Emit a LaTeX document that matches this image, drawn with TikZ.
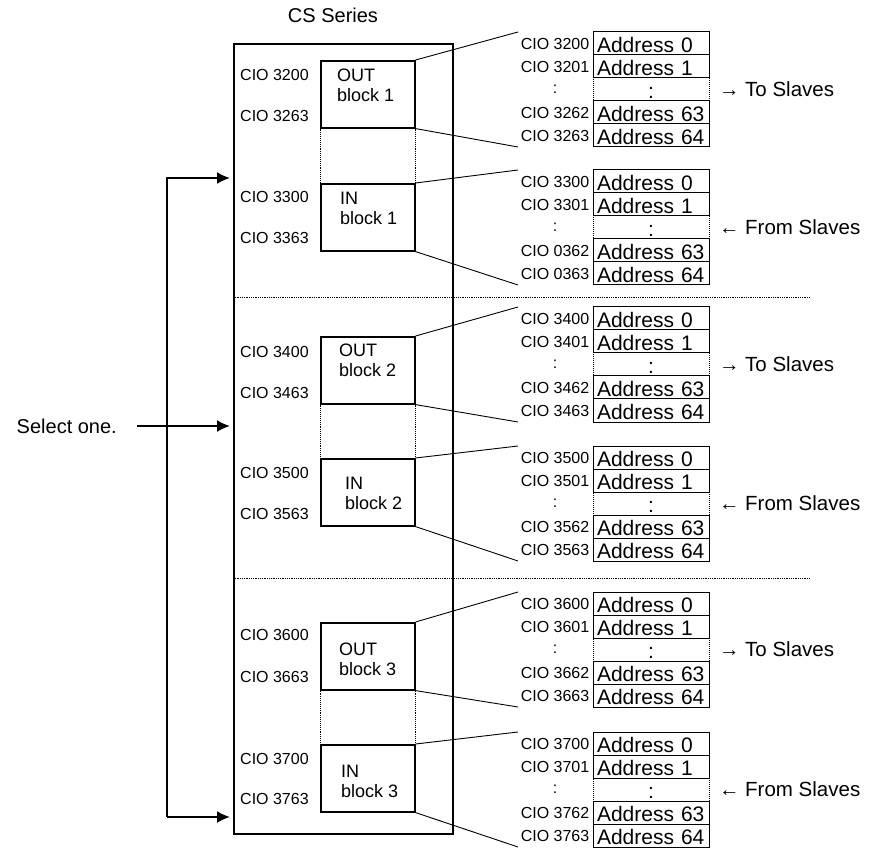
\documentclass[tikz,border=0pt]{standalone}
\usepackage{fontspec}
\setmainfont{Liberation Sans}
\usetikzlibrary{arrows.meta}
% one address table: name, top edge, four CIO numbers, note
\newcommand{\addrtable}[7]{%
  \coordinate (#1top) at (518,#2);
  \coordinate (#1bot) at (518,#2+115);
  \node[addrdot] (#1r2) at (651,#2+57.5) {:};
  \node[addr] (#1r0) at (651,#2+11.5) {Address 0};
  \node[addr] (#1r1) at (651,#2+34.5) {Address 1};
  \node[addr] (#1r3) at (651,#2+80.5) {Address 63};
  \node[addr] (#1r4) at (651,#2+103.5) {Address 64};
  \node[cio, anchor=east] (#1c0) at (#1r0.west) {CIO #3};
  \node[cio, anchor=east] (#1c1) at (#1r1.west) {CIO #4};
  \node[cio] (#1c2) at (#1c1.center |- #1r2.center) {:};
  \node[cio, anchor=east] (#1c3) at (#1r3.west) {CIO #5};
  \node[cio, anchor=east] (#1c4) at (#1r4.west) {CIO #6};
  \node[note, anchor=west, xshift=6pt] (#1n) at (#1r2.east) {#7};
}

\begin{document}
\begin{tikzpicture}[x=1pt, y=-1pt,
    box/.style={draw, line width=2pt, minimum width=219pt,
                minimum height=790pt, anchor=north west},
    blk/.style={draw, line width=1.6pt, minimum width=94pt,
                minimum height=67pt, anchor=north west},
    blktxt/.style={anchor=west, inner sep=0pt, align=left,
                   font=\fontsize{18}{20}\selectfont},
    addr/.style={draw, line width=1pt, minimum width=116pt,
                 minimum height=23pt, inner ysep=0pt, inner xsep=4pt,
                 text width=108pt, align=left, text height=18.5pt,
                 text depth=0pt, font=\fontsize{21}{21}\selectfont},
    addrdot/.style={addr, densely dotted, align=center},
    cio/.style={inner sep=3pt, font=\fontsize{16}{16}\selectfont},
    note/.style={font=\fontsize{20.5}{20.5}\selectfont},
    lbl/.style={inner sep=0pt, font=\fontsize{20}{20}\selectfont},
    lnk/.style={line width=0.9pt},
    gap/.style={densely dotted, line width=0.9pt},
    sep/.style={densely dotted, line width=0.8pt},
    arr/.style={-{Latex[length=13pt,width=12pt]}, line width=2pt}
  ]
  \useasboundingbox (0,0) rectangle (876,850);

  \node[box] (cs) at (233,43) {};
  \node[lbl] (ttl) at (333,15) {CS Series};

  % block 1
  \node[blk] (out1) at (320,60) {};
  \node[blk] (in1) at (320,183) {};
  \node[blktxt] (out1t) at (337,85) {OUT\\block 1};
  \node[blktxt] (in1t) at (340,208.5) {IN\\block 1};
  \node[cio, anchor=west] (l3200) at (237,75) {CIO 3200};
  \node[cio, anchor=west] (l3263) at (237,116) {CIO 3263};
  \node[cio, anchor=west] (l3300) at (237,197) {CIO 3300};
  \node[cio, anchor=west] (l3363) at (237,238) {CIO 3363};
  \draw[gap] (out1.south west) -- (in1.north west);
  \draw[gap] (out1.south east) -- (in1.north east);
  \addrtable{t1}{32}{3200}{3201}{3262}{3263}{→ To Slaves}
  \addrtable{t2}{170}{3300}{3301}{0362}{0363}{← From Slaves}
  \draw[lnk] (out1.north east) -- (t1top);
  \draw[lnk] (out1.south east) -- (t1bot);
  \draw[lnk] (in1.north east) -- (t2top);
  \draw[lnk] (in1.south east) -- (t2bot);

  \coordinate (s1) at (810,297);
  \draw[sep] (s1 -| cs.west) -- (s1);

  % block 2
  \node[blk] (out2) at (320,336) {};
  \node[blk] (in2) at (320,458) {};
  \node[blktxt] (out2t) at (339,360) {OUT\\block 2};
  \node[blktxt] (in2t) at (345,493) {IN\\block 2};
  \node[cio, anchor=west] (l3400) at (237,352) {CIO 3400};
  \node[cio, anchor=west] (l3463) at (237,393) {CIO 3463};
  \node[cio, anchor=west] (l3500) at (237,473) {CIO 3500};
  \node[cio, anchor=west] (l3563) at (237,514) {CIO 3563};
  \draw[gap] (out2.south west) -- (in2.north west);
  \draw[gap] (out2.south east) -- (in2.north east);
  \addrtable{t3}{307}{3400}{3401}{3462}{3463}{→ To Slaves}
  \addrtable{t4}{446}{3500}{3501}{3562}{3563}{← From Slaves}
  \draw[lnk] (out2.north east) -- (t3top);
  \draw[lnk] (out2.south east) -- (t3bot);
  \draw[lnk] (in2.north east) -- (t4top);
  \draw[lnk] (in2.south east) -- (t4bot);

  \coordinate (s2) at (810,578);
  \draw[sep] (s2 -| cs.west) -- (s2);

  % block 3
  \node[blk] (out3) at (320,622) {};
  \node[blk] (in3) at (320,744) {};
  \node[blktxt] (out3t) at (339,659.5) {OUT\\block 3};
  \node[blktxt] (in3t) at (341,781.5) {IN\\block 3};
  \node[cio, anchor=west] (l3600) at (237,635) {CIO 3600};
  \node[cio, anchor=west] (l3663) at (237,677) {CIO 3663};
  \node[cio, anchor=west] (l3700) at (237,759) {CIO 3700};
  \node[cio, anchor=west] (l3763) at (237,799) {CIO 3763};
  \draw[gap] (out3.south west) -- (in3.north west);
  \draw[gap] (out3.south east) -- (in3.north east);
  \addrtable{t5}{592}{3600}{3601}{3662}{3663}{→ To Slaves}
  \addrtable{t6}{732}{3700}{3701}{3762}{3763}{← From Slaves}
  \draw[lnk] (out3.north east) -- (t5top);
  \draw[lnk] (out3.south east) -- (t5bot);
  \draw[lnk] (in3.north east) -- (t6top);
  \draw[lnk] (in3.south east) -- (t6bot);

  % selection arrows
  \node[lbl, anchor=east] (sel) at (117,426) {Select one.};
  \coordinate (jt) at (167,178);
  \coordinate (jb) at (167,817);
  \draw[arr, shorten >=3pt] ([xshift=20pt]sel.east) -- (sel.east -| cs.west);
  \draw[arr, shorten >=3pt] (jb) -- (jt) -- (jt -| cs.west);
  \draw[arr, shorten >=3pt] (jb) -- (jb -| cs.west);
\end{tikzpicture}
\end{document}
